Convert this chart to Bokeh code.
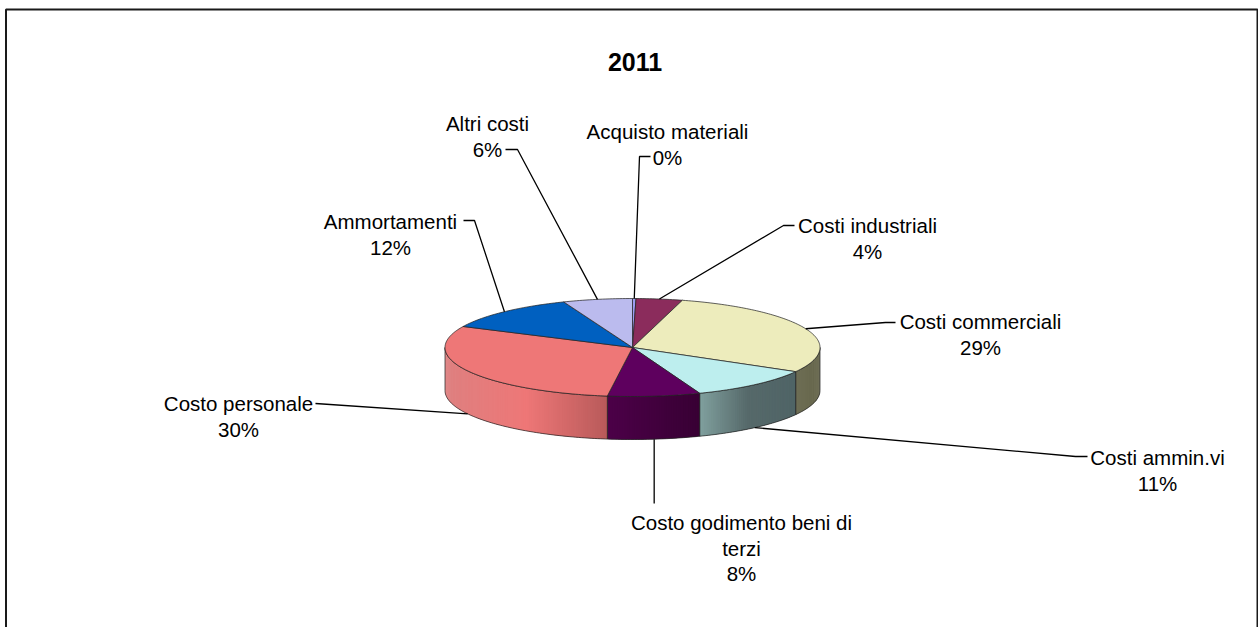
import math
from bokeh.core.properties import value
from bokeh.embed import file_html
from bokeh.models import Range1d
from bokeh.plotting import figure
from bokeh.resources import INLINE

# Cost breakdown for the year, as shares of the total
title = "2011"
categories = ["Acquisto materiali", "Costi industriali", "Costi commerciali", "Costi ammin.vi",
              "Costo godimento beni di terzi", "Costo personale", "Ammortamenti", "Altri costi"]
shares = [0.3, 4, 29, 11, 8, 30, 12, 6]
wrapped_labels = [["Acquisto materiali"], ["Costi industriali"], ["Costi commerciali"], ["Costi ammin.vi"],
                  ["Costo godimento beni di", "terzi"], ["Costo personale"], ["Ammortamenti"], ["Altri costi"]]

# Face colours and the left/middle/right shading of the outer wall
face_colors = ["#9C9CF0", "#8B2C5C", "#EDECBC", "#BDEEEE", "#5E005E", "#EE7777", "#0060C0", "#BBBBEE"]
wall_stops = {
    2: ["#6E6E55", "#6A6A50", "#66664C"],
    3: ["#80A09E", "#56696A", "#4F6466"],
    4: ["#4C0048", "#42003E", "#380034"],
    5: ["#DE8080", "#EE7777", "#B85A5A"],
}

# Pie geometry on the page, in pixels
CX, CY, RX, RY, DEPTH = 632, 347, 187.5, 49, 43
FONT = "Liberation Sans"

# Where each label's first baseline sits (centre x, baseline y) and the leader's elbow
label_pos = [(667, 131), (867, 225), (980, 321), (1157, 457), (741, 522), (238, 403), (390, 221), (487, 123)]
leader_elbows = [[(639, 156), (650, 156)], [(783, 225), (794, 225)], [(885, 322), (895, 322)],
                 [(1075, 456), (1087, 456)], [], [(315, 403)], [(474, 220), (463, 220)], [(517, 149), (505, 149)]]


def rim(t, drop=0.0):
    r = math.radians(t)
    return CX + RX * math.sin(r), CY - RY * math.cos(r) + drop


def arc(a, b, drop=0.0, step=1.0):
    n = max(2, int(abs(b - a) / step) + 1)
    return [rim(a + (b - a) * i / (n - 1), drop) for i in range(n)]


def mix(c1, c2, f):
    p = [int(c1[i:i + 2], 16) for i in (1, 3, 5)]
    q = [int(c2[i:i + 2], 16) for i in (1, 3, 5)]
    return "#%02x%02x%02x" % tuple(round(u + (v - u) * f) for u, v in zip(p, q))


def shade(stops, f):
    return mix(stops[0], stops[1], f * 2) if f < 0.5 else mix(stops[1], stops[2], f * 2 - 1)


p = figure(width=1258, height=627, output_backend="svg", toolbar_location=None,
           x_range=Range1d(0, 1258), y_range=Range1d(627, 0), min_border=0)
p.axis.visible = False
p.grid.visible = False
p.outline_line_color = None
p.background_fill_color = "white"
p.border_fill_color = "white"

# Chart frame: open at the bottom, where it runs off the page
p.line([5.5, 5.5, 1257, 1257], [627, 9, 9, 627], line_color="#1a1a1a", line_width=2)

total = sum(shares)
bounds = [0.0]
for s in shares:
    bounds.append(bounds[-1] + s / total * 360)

# Outer wall: painted strip by strip, each one reaching under the next, so that
# the horizontal gradient shows no seams
for i, stops in wall_stops.items():
    a, b = max(bounds[i], 90), min(bounds[i + 1], 270)
    xa, xb = rim(a)[0], rim(b)[0]
    lo, hi = min(xa, xb), max(xa, xb)
    if i == 5:
        lo = CX - RX
    n = max(2, int((b - a) / 0.75))
    xs, ys, cols = [], [], []
    for k in range(n):
        t0 = a + (b - a) * k / n
        t1 = a + (b - a) * min(n, k + 2) / n
        x0, y0 = rim(t0)
        x1, y1 = rim(t1)
        xs.append([x0, x1, x1, x0])
        ys.append([y0, y1, y1 + DEPTH, y0 + DEPTH])
        f = (rim(a + (b - a) * (k + 0.5) / n)[0] - lo) / (hi - lo) if hi > lo else 0
        cols.append(shade(stops, min(1, max(0, f))))
    p.patches(xs, ys, fill_color=cols, line_color=None)
    ring = arc(a, b) + arc(b, a, DEPTH)
    p.patch([q[0] for q in ring], [q[1] for q in ring], fill_color=None,
            line_color="#222222", line_width=0.9, line_alpha=0.8)

# Top face, one wedge per category
for i, col in enumerate(face_colors):
    pts = [(CX, CY)] + arc(bounds[i], bounds[i + 1])
    p.patch([q[0] for q in pts], [q[1] for q in pts], fill_color=col,
            line_color="#222222", line_width=0.9, line_alpha=0.8)

# Leader lines start at the middle of each wedge, on the wall when the wedge faces front
for i, elbow in enumerate(leader_elbows):
    mid = (bounds[i] + bounds[i + 1]) / 2
    drop = DEPTH if 90 < mid < 270 else 0
    pts = [rim(mid, drop)] + elbow
    if not elbow:
        pts.append((pts[0][0], 503))
    p.line([q[0] for q in pts], [q[1] for q in pts], line_color="black", line_width=1.3)

# Labels: category name(s), then the share rounded to a whole percent
LEADING = 25.5
tx, ty, tt = [], [], []
for (x, y), lines, s in zip(label_pos, wrapped_labels, shares):
    for j, line in enumerate(lines + [f"{round(s)}%"]):
        tx.append(x)
        ty.append(y + j * LEADING)
        tt.append(line)
p.text(tx, ty, text=tt, text_font=value(FONT), text_font_size="20.5px", text_color="black",
       text_align="center", text_baseline="alphabetic")

p.text([634.5], [61], text=[title], text_font=value(FONT), text_font_size="25px",
       text_font_style="bold", text_color="black", text_align="center", text_baseline="alphabetic")

open("out.html", "w").write(file_html(p, INLINE))
